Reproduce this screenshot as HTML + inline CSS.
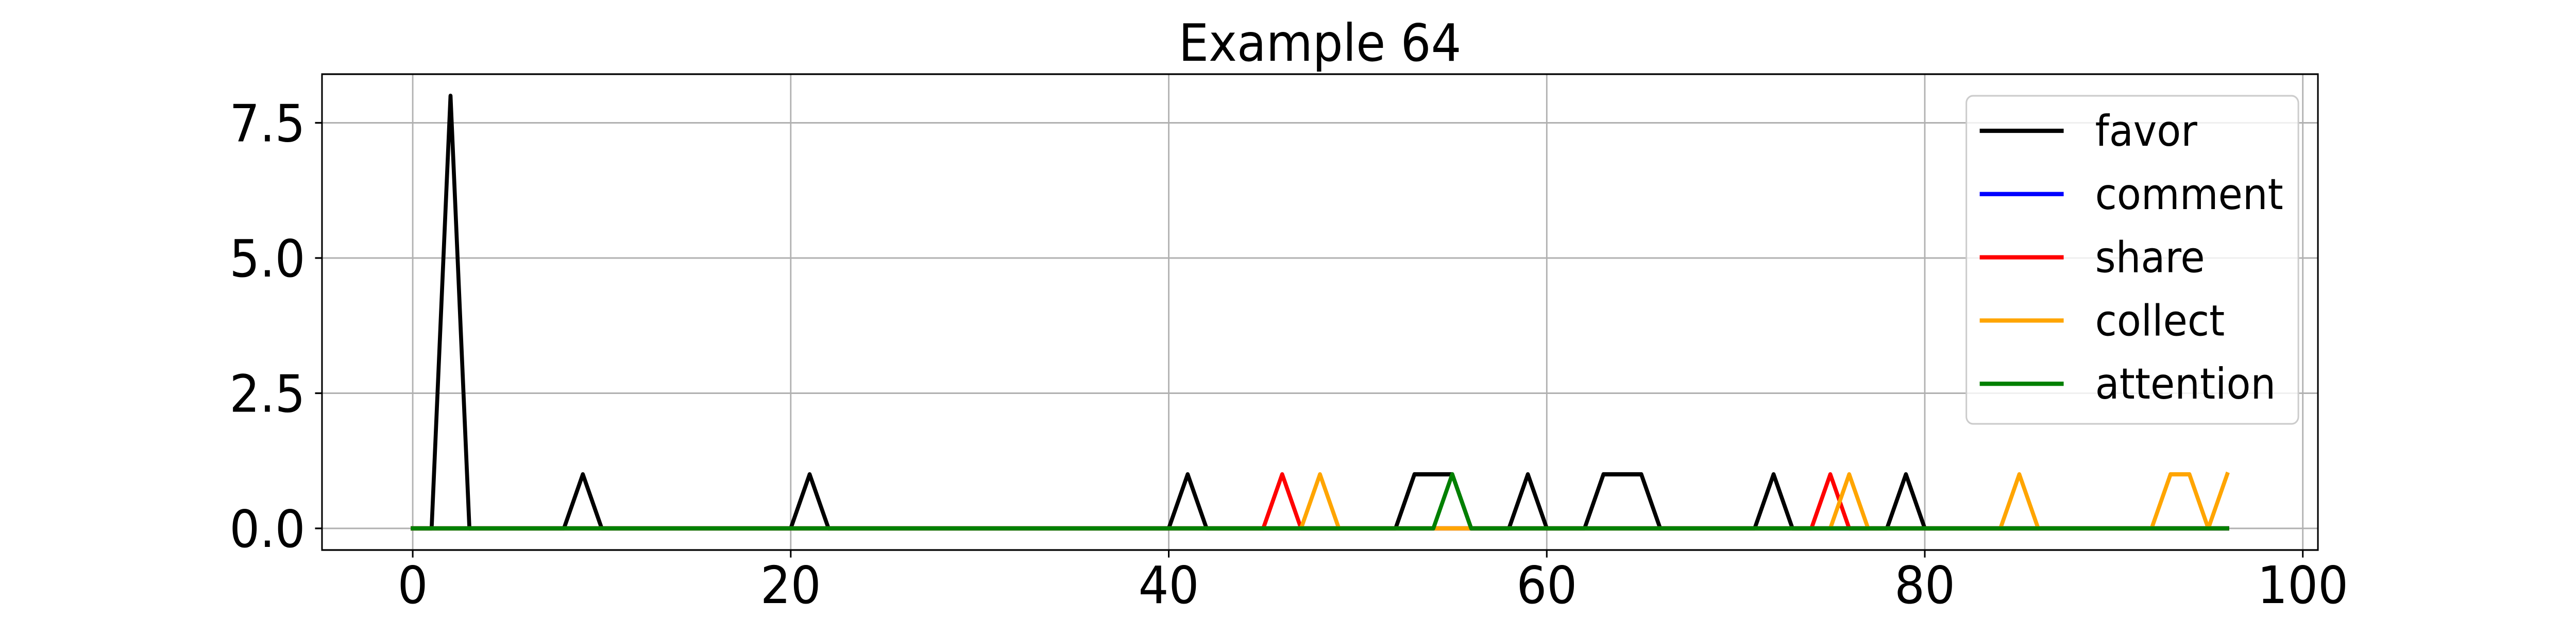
<!DOCTYPE html>
<html><head><meta charset="utf-8"><style>
html,body{margin:0;padding:0;background:#fff;width:100%;height:100%;overflow:hidden;}
svg{display:block;width:100vw;height:100vh;font-family:"DejaVu Sans","Liberation Sans",sans-serif;}
</style></head><body>
<svg id="chart" viewBox="0 0 5400 1200" preserveAspectRatio="none" xmlns="http://www.w3.org/2000/svg">
<rect width="5400" height="1200" fill="#fff"/>
<g id="grid"></g>
<g id="series"></g>
<rect x="675" y="144" width="4184" height="924" fill="none" stroke="#000" stroke-width="3.3"/>
<g id="ticks"></g>
<text x="2767" y="118" font-size="100" text-anchor="middle">Example 64</text>
<g id="legend"></g>
</svg>
<script>
const seriesNames = ["favor","comment","share","collect","attention"];
const seriesColors = ["#000000","#0000ff","#ff0000","#ffa500","#008000"];
const favorPeaks = [[2,8],[9,1],[21,1],[41,1],[53,1],[54,1],[55,1],[59,1],[63,1],[64,1],[65,1],[72,1],[79,1]];
const commentPeaks = [];
const sharePeaks = [[46,1],[75,1]];
const collectPeaks = [[48,1],[76,1],[85,1],[93,1],[94,1],[96,1]];
const attentionPeaks = [[55,1]];
const xTicks = [0,20,40,60,80,100];
const yTicks = [0,2.5,5,7.5];
const yTickLabels = ["0.0","2.5","5.0","7.5"];
const N = 97;

const NS="http://www.w3.org/2000/svg";
const L=675,R=4859,T=144,B=1068;
const xMin=-4.8,xMax=100.8,yMin=-0.4,yMax=8.4;
function sx(v){return L+(v-xMin)/(xMax-xMin)*(R-L);}
function sy(v){return B-(v-yMin)/(yMax-yMin)*(B-T);}
function mk(tag,attrs,parent){const e=document.createElementNS(NS,tag);for(const k in attrs)e.setAttribute(k,attrs[k]);parent.appendChild(e);return e;}
function build(peaks){const a=new Array(N).fill(0);peaks.forEach(p=>a[p[0]]=p[1]);return a;}
const allPeaks=[favorPeaks,commentPeaks,sharePeaks,collectPeaks,attentionPeaks];

const grid=document.getElementById('grid'), ticks=document.getElementById('ticks');
xTicks.forEach(v=>{
  const g=mk('line',{x1:sx(v),x2:sx(v),y1:T,y2:B,stroke:'#b0b0b0','stroke-width':3},grid);
  
  
  const t=mk('line',{x1:sx(v),x2:sx(v),y1:B,y2:B+14.6,stroke:'#000','stroke-width':3.3},ticks);
  
  
  const l=mk('text',{x:sx(v),y:B+103,'font-size':100,'text-anchor':'middle'},ticks);
  l.textContent=v;
  
  
});
yTicks.forEach((v,i)=>{
  const g=mk('line',{x1:L,x2:R,y1:sy(v),y2:sy(v),stroke:'#b0b0b0','stroke-width':3},grid);
  
  
  const t=mk('line',{x1:L-14.6,x2:L,y1:sy(v),y2:sy(v),stroke:'#000','stroke-width':3.3},ticks);
  
  
  const l=mk('text',{x:L-35,y:sy(v)+36,'font-size':100,'text-anchor':'end'},ticks);
  l.textContent=yTickLabels[i];
  
  
});
const sg=document.getElementById('series');
allPeaks.forEach((pk,i)=>{
  const d=build(pk);
  const pts=d.map((v,x)=>sx(x).toFixed(1)+','+sy(v).toFixed(1)).join(' ');
  const p=mk('polyline',{points:pts,fill:'none',stroke:seriesColors[i],'stroke-width':8.3,'stroke-linejoin':'round','stroke-linecap':'square'},sg);
  
  
});
const lg=document.getElementById('legend');
const box=mk('rect',{x:4122,y:186,width:696,height:637,rx:14,fill:'#fff','fill-opacity':0.8,stroke:'#cccccc','stroke-width':3.3},lg);


seriesNames.forEach((n,i)=>{
  const y=254+i*122.8;
  const ln=mk('line',{x1:4150,x2:4326,y1:y,y2:y,stroke:seriesColors[i],'stroke-width':8.3},lg);
  
  
  const t=mk('text',{x:4392,y:y+29,'font-size':83},lg);
  t.textContent=n;
  
  
});
</script>
</body></html>
